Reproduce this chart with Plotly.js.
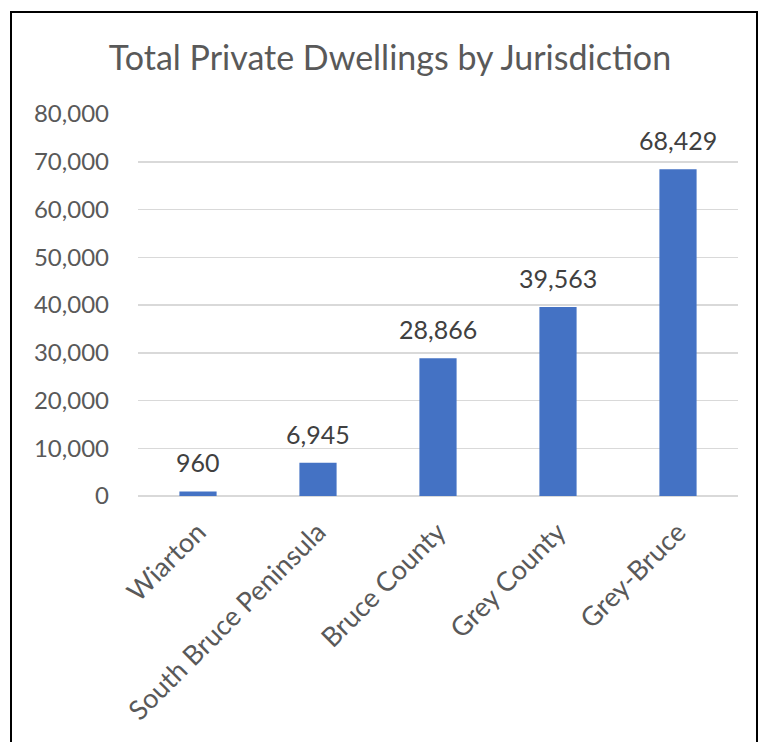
<!DOCTYPE html>
<html>
<head>
<meta charset="utf-8">
<script src="https://cdn.plot.ly/plotly-3.0.1.min.js"></script>
<style>
  html, body { margin: 0; padding: 0; background: #fff; }
  #wrap { position: relative; width: 760px; height: 742px; overflow: hidden; }
  #frame { position: absolute; left: 10px; top: 11px; width: 748px; height: 740px; border: 2px solid #000; box-sizing: border-box; pointer-events: none; z-index: 5; }
  #chart { position: absolute; left: 0; top: 0; width: 760px; height: 742px; }
</style>
</head>
<body>
<div id="wrap">
  <div id="chart"></div>
  <div id="frame"></div>
</div>
<script>
const categories = ["Wiarton", "South Bruce Peninsula", "Bruce County", "Grey County", "Grey-Bruce"];
const dwellings = [960, 6945, 28866, 39563, 68429];
const yTickValues = [0, 10000, 20000, 30000, 40000, 50000, 60000, 70000, 80000];
const yTickLabels = ["0", "10,000", "20,000", "30,000", "40,000", "50,000", "60,000", "70,000", "80,000"];

const fontFamily = "Lato, 'Open Sans', sans-serif";

const trace = {
  type: "bar",
  x: categories,
  y: dwellings,
  marker: { color: "#4472C4" },
  hoverinfo: "skip"
};

const annotations = categories.map((c, i) => ({
  x: c,
  y: dwellings[i],
  xref: "x",
  yref: "y",
  text: dwellings[i].toLocaleString("en-US"),
  showarrow: false,
  yanchor: "bottom",
  yshift: 12,
  font: { family: fontFamily, size: 25, color: "#404040" }
}));

const layout = {
  width: 760,
  height: 742,
  margin: { l: 138, r: 22, t: 114, b: 246 },
  paper_bgcolor: "#ffffff",
  plot_bgcolor: "#ffffff",
  title: {
    text: "Total Private Dwellings by Jurisdiction",
    font: { family: fontFamily, size: 34, color: "#595959" },
    x: 390 / 760,
    xanchor: "center",
    xref: "container",
    yref: "container",
    y: 1 - 58 / 742,
    yanchor: "middle"
  },
  bargap: 0.69,
  showlegend: false,
  xaxis: {
    type: "category",
    tickangle: -45,
    tickfont: { family: fontFamily, size: 27, color: "#595959" },
    showgrid: false,
    showline: false,
    ticks: "",
    zeroline: false,
    ticklabelstandoff: 14
  },
  yaxis: {
    range: [0, 80000],
    tickvals: yTickValues,
    ticktext: yTickLabels,
    tickfont: { family: fontFamily, size: 24, color: "#595959" },
    showgrid: true,
    gridcolor: "#d9d9d9",
    gridwidth: 1.5,
    zeroline: true,
    zerolinecolor: "#d9d9d9",
    zerolinewidth: 1.5,
    showline: false,
    ticks: "",
    ticklen: 0,
    ticklabelstandoff: 28,
    automargin: false
  },
  annotations: annotations
};

Plotly.newPlot("chart", [trace], layout, { displayModeBar: false, staticPlot: true });
</script>
</body>
</html>
